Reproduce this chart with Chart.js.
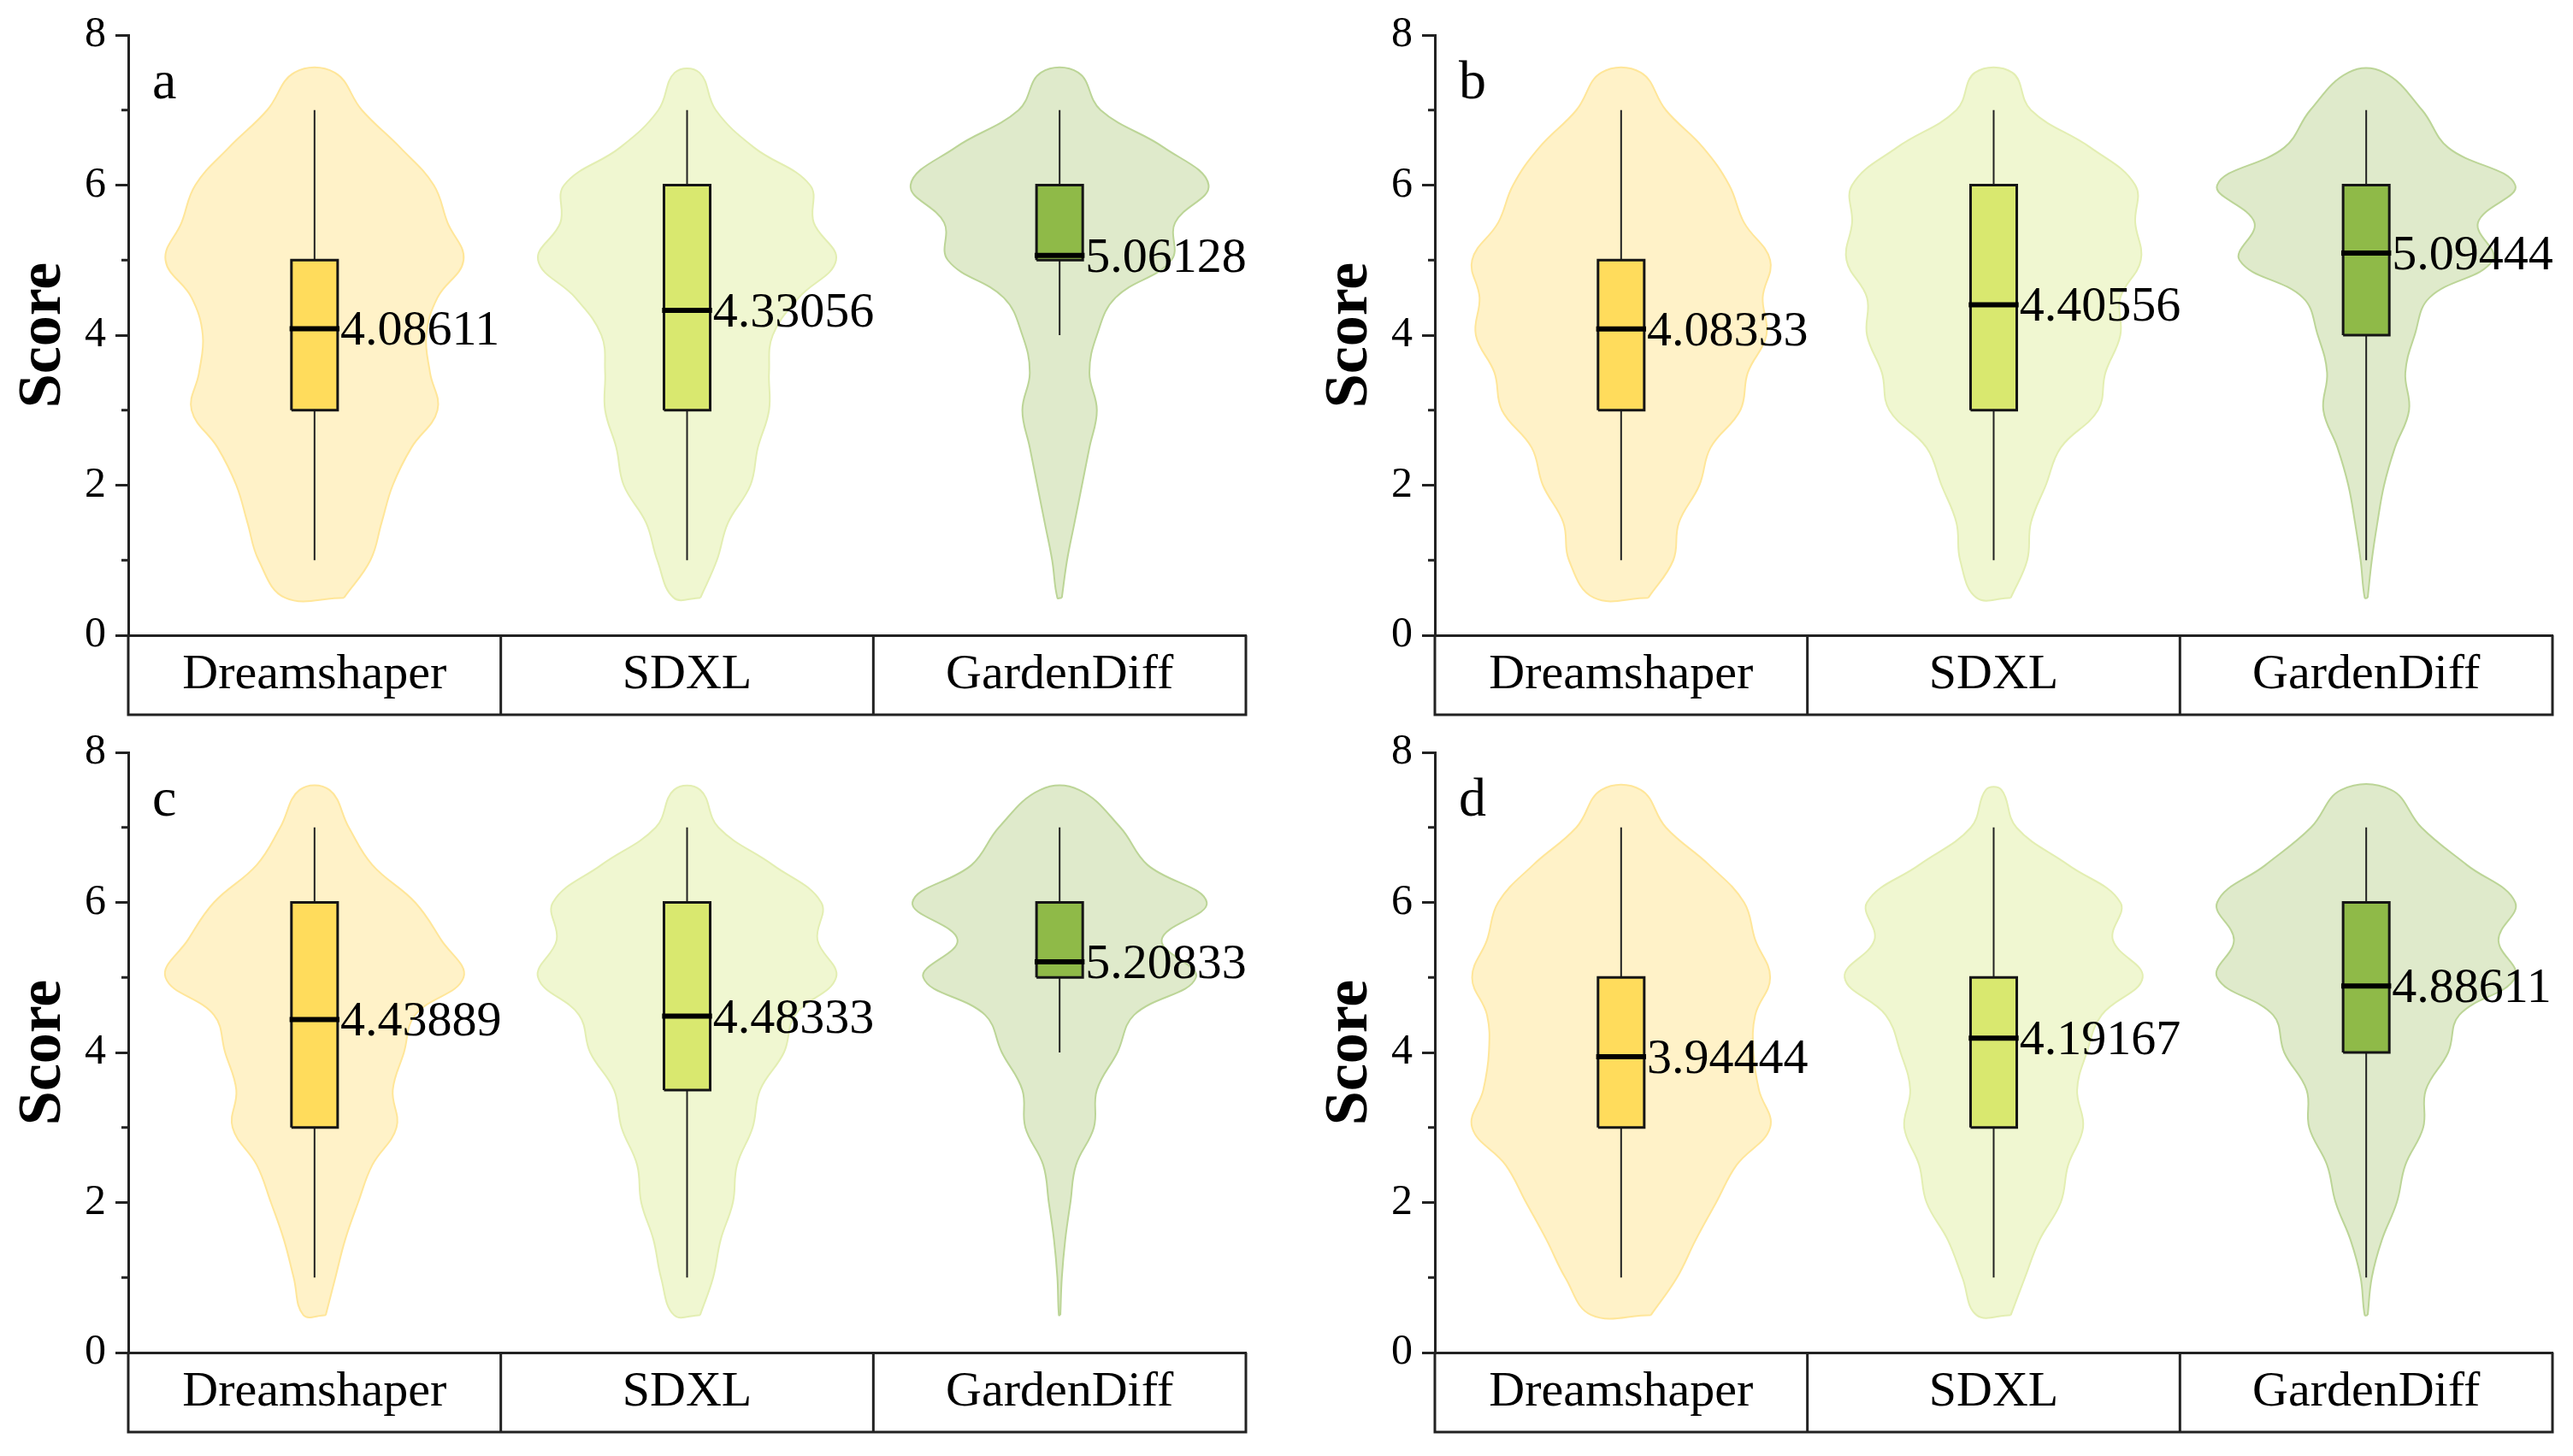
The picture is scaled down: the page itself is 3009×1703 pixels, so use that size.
<!DOCTYPE html>
<html><head><meta charset="utf-8">
<script src="https://cdn.jsdelivr.net/npm/chart.js@4.4.1/dist/chart.umd.min.js"></script>
<style>
html,body{margin:0;padding:0;background:#fff;width:3009px;height:1703px;overflow:hidden;position:relative}
canvas{position:absolute}
</style></head><body>
<canvas id="pa" width="1528" height="839" style="left:0;top:0"></canvas>
<canvas id="pb" width="1481" height="839" style="left:1528px;top:0"></canvas>
<canvas id="pc" width="1528" height="839" style="left:0;top:839px"></canvas>
<canvas id="pd" width="1481" height="839" style="left:1528px;top:839px"></canvas>
<script>
// ---------- data ----------
const categories = ['Dreamshaper', 'SDXL', 'GardenDiff'];
const panelLetters = ['a', 'b', 'c', 'd'];
const yTickValues = [0, 2, 4, 6, 8];
// score levels at which the violin half-widths were read (bottom to top)
const scoreLevels = [0.5, 1, 1.5, 2, 2.5, 3, 3.5, 4, 4.5, 5, 5.5, 6, 6.5, 7, 7.5];

// violin half-widths (category units), one row per category
const violinA = [
  [0.079, 0.15, 0.18, 0.21, 0.26, 0.33, 0.31, 0.30, 0.33, 0.40, 0.357, 0.32, 0.23, 0.127, 0.054],
  [0.036, 0.08, 0.11, 0.17, 0.19, 0.22, 0.22, 0.23, 0.30, 0.40, 0.34, 0.33, 0.18, 0.077, 0.033],
  [0.006, 0.02, 0.04, 0.06, 0.08, 0.10, 0.08, 0.10, 0.15, 0.30, 0.31, 0.40, 0.28, 0.11, 0.05]
];
const violinB = [
  [0.073, 0.14, 0.155, 0.21, 0.24, 0.32, 0.34, 0.39, 0.38, 0.40, 0.33, 0.29, 0.22, 0.12, 0.053],
  [0.046, 0.09, 0.10, 0.14, 0.18, 0.28, 0.30, 0.34, 0.34, 0.395, 0.38, 0.38, 0.26, 0.10, 0.05],
  [0.004, 0.015, 0.03, 0.048, 0.077, 0.115, 0.105, 0.13, 0.17, 0.34, 0.30, 0.40, 0.22, 0.15, 0.048]
];
const violinC = [
  [0.03, 0.056, 0.082, 0.117, 0.155, 0.22, 0.21, 0.24, 0.27, 0.40, 0.34, 0.27, 0.155, 0.092, 0.04],
  [0.035, 0.07, 0.09, 0.123, 0.134, 0.176, 0.196, 0.26, 0.29, 0.40, 0.35, 0.36, 0.23, 0.084, 0.035],
  [0.002, 0.006, 0.015, 0.029, 0.044, 0.092, 0.10, 0.155, 0.20, 0.366, 0.274, 0.395, 0.236, 0.163, 0.052]
];
const violinD = [
  [0.08, 0.15, 0.20, 0.255, 0.31, 0.40, 0.37, 0.355, 0.36, 0.40, 0.36, 0.33, 0.236, 0.12, 0.053],
  [0.046, 0.084, 0.123, 0.18, 0.20, 0.24, 0.224, 0.25, 0.29, 0.40, 0.32, 0.34, 0.20, 0.061, 0.021],
  [0.004, 0.015, 0.042, 0.082, 0.105, 0.153, 0.16, 0.22, 0.25, 0.40, 0.355, 0.40, 0.27, 0.148, 0.067]
];

// box statistics
const q1A = [3, 3, 5],   q3A = [5, 6, 6], medianA = [4.08611, 4.33056, 5.06128], lowA = [1, 1, 4], highA = [7, 7, 7];
const q1B = [3, 3, 4],   q3B = [5, 6, 6], medianB = [4.08333, 4.40556, 5.09444], lowB = [1, 1, 1], highB = [7, 7, 7];
const q1C = [3, 3.5, 5], q3C = [6, 6, 6], medianC = [4.43889, 4.48333, 5.20833], lowC = [1, 1, 4], highC = [7, 7, 7];
const q1D = [3, 3, 4],   q3D = [5, 5, 6], medianD = [3.94444, 4.19167, 4.88611], lowD = [1, 1, 1], highD = [7, 7, 7];

// ---------- style ----------
const FONT = '"Liberation Serif", "Times New Roman", serif';
const violinFill = ['#FFF2C8', '#F0F7D1', '#DFEACB'];
const violinEdge = ['#FFE699', '#E3EEB2', '#BCD597'];
const boxFill = ['#FFDC5C', '#D9E86F', '#8FBA48'];
const BOX_HALF = 0.062;
const MED_HALF = 0.067;

const decor = {
  id: 'decor',
  afterDraw(chart, args, opts) {
    const {ctx, chartArea: ca, scales: {x, y}} = chart;
    const bottom = x.bottom;
    ctx.save();
    ctx.strokeStyle = '#222';
    ctx.lineWidth = 3;
    ctx.beginPath();
    // axis line continues down along the category table
    ctx.moveTo(ca.left, ca.bottom);
    ctx.lineTo(ca.left, bottom);
    ctx.moveTo(ca.left - 1.5, bottom);
    ctx.lineTo(x.getPixelForValue(3.5) + 1.5, bottom);
    [1.5, 2.5, 3.5].forEach(v => {
      const px = x.getPixelForValue(v);
      ctx.moveTo(px, ca.bottom);
      ctx.lineTo(px, bottom);
    });
    // minor ticks
    [1, 3, 5, 7].forEach(v => {
      const py = y.getPixelForValue(v);
      ctx.moveTo(ca.left - 8, py);
      ctx.lineTo(ca.left, py);
    });
    ctx.stroke();
    // median labels
    ctx.fillStyle = '#000';
    ctx.font = '58px ' + FONT;
    ctx.textAlign = 'left';
    ctx.textBaseline = 'alphabetic';
    opts.medians.forEach((m, i) => {
      const px = x.getPixelForValue(i + 1 + MED_HALF) + 1;
      const py = y.getPixelForValue(m) + 19;
      ctx.fillText(String(m), px, py);
    });
    // panel letter
    ctx.font = '64px ' + FONT;
    ctx.fillText(opts.letter, ca.left + 28, ca.top + 74);
    ctx.restore();
  }
};

function makeChart(id, letter, widths, q1, q3, med, lo, hi, padRight) {
  const datasets = [];
  categories.forEach((c, i) => {
    const cx = i + 1;
    const outline = [];
    scoreLevels.forEach((s, k) => outline.push({x: cx + widths[i][k], y: s}));
    for (let k = scoreLevels.length - 1; k >= 0; k--) outline.push({x: cx - widths[i][k], y: scoreLevels[k]});
    outline.push({x: cx + widths[i][0], y: scoreLevels[0]});
    datasets.push({
      label: c + ' violin', data: outline, fill: 'shape',
      backgroundColor: violinFill[i], borderColor: violinEdge[i], borderWidth: 2,
      tension: 0.4, pointRadius: 0, order: 4
    });
    datasets.push({
      label: c + ' whisker', data: [{x: cx, y: lo[i]}, {x: cx, y: hi[i]}],
      borderColor: '#222', borderWidth: 2, fill: false, pointRadius: 0, order: 3
    });
    datasets.push({
      label: c + ' box',
      data: [{x: cx - BOX_HALF, y: q1[i]}, {x: cx + BOX_HALF, y: q1[i]}, {x: cx + BOX_HALF, y: q3[i]},
             {x: cx - BOX_HALF, y: q3[i]}, {x: cx - BOX_HALF, y: q1[i]}],
      fill: 'shape', backgroundColor: boxFill[i], borderColor: '#151515', borderWidth: 3,
      borderJoinStyle: 'miter', tension: 0, pointRadius: 0, order: 2
    });
    datasets.push({
      label: c + ' median', data: [{x: cx - MED_HALF, y: med[i]}, {x: cx + MED_HALF, y: med[i]}],
      borderColor: '#000', borderWidth: 6, borderCapStyle: 'butt', fill: false, pointRadius: 0, order: 1
    });
  });

  return new Chart(document.getElementById(id), {
    type: 'line',
    data: {datasets},
    plugins: [decor],
    options: {
      responsive: false,
      animation: false,
      devicePixelRatio: 1,
      layout: {padding: {left: 0, top: 36, right: padRight, bottom: 3}},
      plugins: {
        legend: {display: false},
        tooltip: {enabled: false},
        decor: {medians: med, letter: letter}
      },
      elements: {point: {radius: 0}},
      scales: {
        x: {
          type: 'linear', min: 0.5, max: 3.5,
          afterBuildTicks(s) { s.ticks = [1, 2, 3].map(v => ({value: v})); },
          afterFit(s) { s.height = 93; },
          ticks: {
            callback: v => categories[Math.round(v) - 1],
            font: {family: FONT, size: 58}, color: '#000', padding: 12,
            maxRotation: 0, autoSkip: false
          },
          grid: {display: false, drawTicks: false},
          border: {display: true, color: '#222', width: 3}
        },
        y: {
          min: 0, max: 8,
          afterFit(s) { s.width = 150; },
          ticks: {
            stepSize: 1,
            callback: v => (yTickValues.includes(v) ? String(v) : ''),
            font: {family: FONT, size: 50}, color: '#000', padding: 11
          },
          grid: {
            drawOnChartArea: false, drawTicks: true, tickLength: 15, tickWidth: 3,
            tickColor: ctx => (ctx.tick && yTickValues.includes(ctx.tick.value) ? '#222' : 'rgba(0,0,0,0)')
          },
          border: {display: true, color: '#222', width: 3},
          title: {
            display: true, text: 'Score', color: '#000',
            font: {family: FONT, size: 72, weight: 'bold'},
            padding: {top: 8, bottom: 0}
          }
        }
      }
    }
  });
}

makeChart('pa', panelLetters[0], violinA, q1A, q3A, medianA, lowA, highA, 71);
makeChart('pb', panelLetters[1], violinB, q1B, q3B, medianB, lowB, highB, 24);
makeChart('pc', panelLetters[2], violinC, q1C, q3C, medianC, lowC, highC, 71);
makeChart('pd', panelLetters[3], violinD, q1D, q3D, medianD, lowD, highD, 24);
</script>
</body></html>
